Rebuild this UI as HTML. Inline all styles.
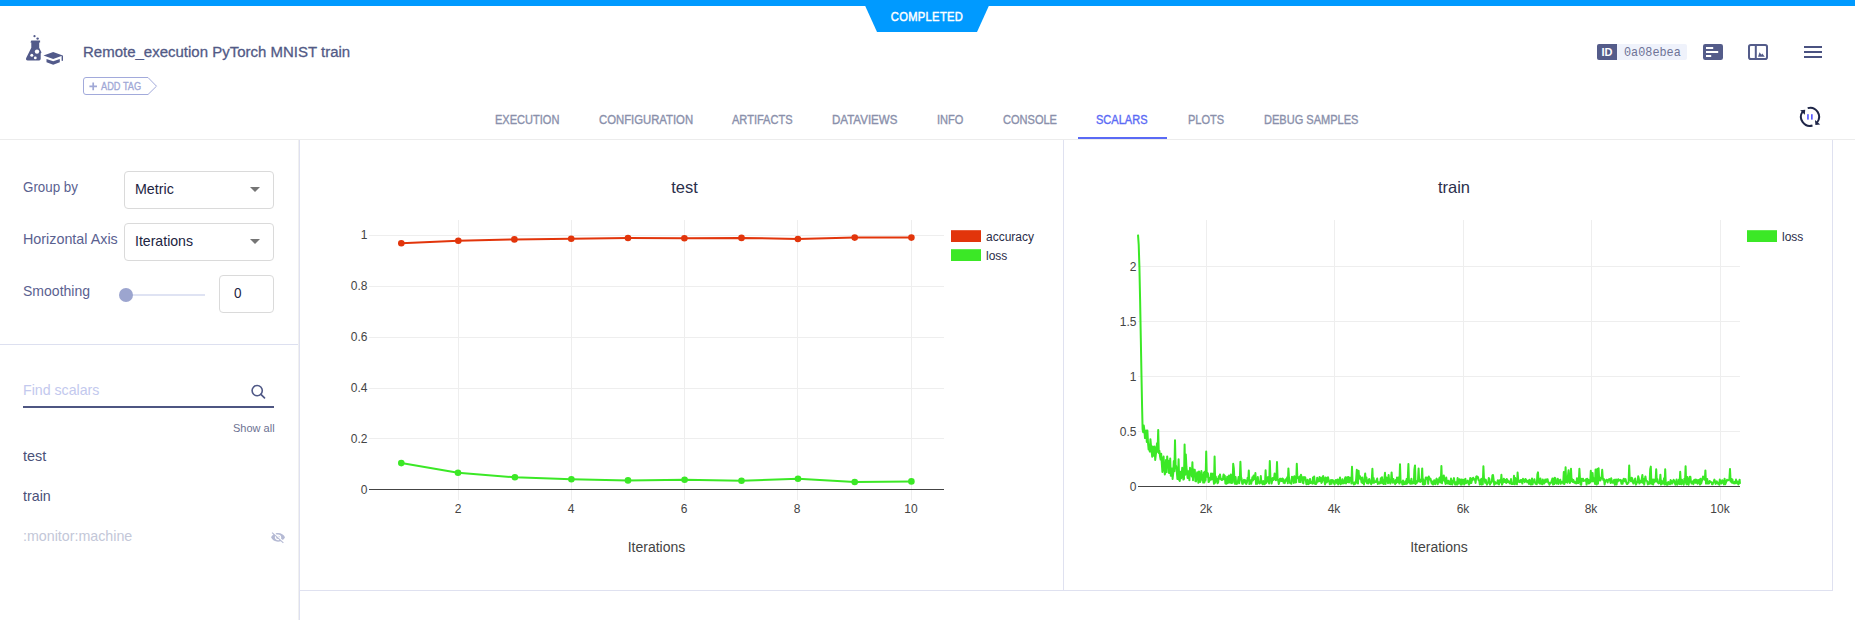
<!DOCTYPE html>
<html>
<head>
<meta charset="utf-8">
<title>Remote_execution PyTorch MNIST train</title>
<style>
html, body { margin: 0; padding: 0; }
body { width: 1855px; height: 620px; overflow: hidden; background: #ffffff; position: relative;
  font-family: "Liberation Sans", Arial, sans-serif; }
.abs { position: absolute; }
.topbar { left: 0; top: 0; width: 1855px; height: 6px; background: #009aff; }
.status { left: 862px; top: 0; }
.status-text { left: 864px; top: 10px; width: 126px; text-align: center; color: #fff; font-size: 12px; letter-spacing: 0.35px; line-height: 14px; transform: scaleX(0.93); transform-origin: 50% 0; -webkit-text-stroke: 0.45px #fff; }
.title { left: 83px; top: 43px; font-size: 15.5px; transform: scaleX(0.967); transform-origin: 0 0; color: #525a86; white-space: nowrap; line-height: 18px; -webkit-text-stroke: 0.3px #525a86; }
.tag { left: 83px; top: 77px; }
.tag-text { left: 101px; top: 80px; font-size: 11px; color: #a0a8d6; white-space: nowrap; line-height: 12px; transform: scaleX(0.84); transform-origin: 0 0; -webkit-text-stroke: 0.3px #a0a8d6; }
.tab { top: 113px; font-size: 12px; color: #8a90ab; white-space: nowrap; line-height: 14px; transform: scaleX(0.92); transform-origin: 0 0; -webkit-text-stroke: 0.35px #8a90ab; }
.tab.active { color: #5a6af5; -webkit-text-stroke: 0.35px #5a6af5; }
.underline { left: 1078px; top: 137px; width: 89px; height: 2px; background: #5a6af5; }
.hsep { left: 0; top: 139px; width: 1855px; height: 1px; background: #ececec; }
.idbox { left: 1597px; top: 44px; width: 20px; height: 16px; background: #545c8a; border-radius: 2px 0 0 2px; color: #fff; font-weight: bold; font-size: 11px; line-height: 16px; text-align: center; }
.idval { left: 1617px; top: 44px; width: 70px; height: 16px; background: #eff2fb; border-radius: 0 2px 2px 0; }
.idtext { left: 1624px; top: 45px; font-family: "Liberation Mono", monospace; font-size: 13px; color: #6e7296; line-height: 15px; transform: scaleX(0.91); transform-origin: 0 0; }
.lbl { left: 23px; font-size: 15px; color: #5a6190; white-space: nowrap; line-height: 17px; transform-origin: 0 0; }
.sel { left: 124px; width: 148px; height: 36px; border: 1px solid #dadada; border-radius: 4px; background: #fff; }
.seltext { left: 135px; font-size: 15px; color: #21243f; line-height: 17px; white-space: nowrap; transform-origin: 0 0; }
.caret { width: 0; height: 0; border-left: 5px solid transparent; border-right: 5px solid transparent; border-top: 5px solid #757575; }
.vsep { left: 299px; top: 140px; width: 1px; height: 480px; background: #dde0f0; }
.lsep { left: 0; top: 344px; width: 298px; height: 1px; background: #dde0f0; }
.chartbox { border: 1px solid #dfe1f0; border-top: none; background: #fff; }
.charts { position: absolute; left: 0; top: 0; pointer-events: none; }
.listitem { left: 23px; font-size: 15px; color: #4a5179; line-height: 17px; white-space: nowrap; transform-origin: 0 0; }
</style>
</head>
<body>
<div class="abs topbar"></div>
<svg class="abs status" width="130" height="33" viewBox="862 0 130 33"><polygon points="862.5,0 991.5,0 977,32 877,32" fill="#009aff"/></svg>
<div class="abs status-text">COMPLETED</div>

<!-- logo -->
<svg class="abs" style="left:24px;top:33px" width="42" height="34" viewBox="0 0 42 34">
  <g fill="#525a8a">
    <circle cx="10.5" cy="3.2" r="1.1"/>
    <circle cx="13.6" cy="5.6" r="1.2"/>
    <path d="M7.3,7.6 h8.8 v2 h-0.9 v5.2 l2.1,4.3 q0.5,1 -0.6,1.3 l0,5.6 q-0.2,1.4 -1.5,1.4 h-11.5 q-2.3,0 -1.5,-2.3 l5.1,-10.4 v-5.1 h-0.9 z"/>
    <path d="M19.5,22.6 l9.7,-3.6 l9.6,3.6 l-9.6,3.4 z"/>
    <rect x="37.6" y="22.6" width="1.4" height="5.2"/>
    <path d="M22.5,26 l6.7,2.3 l6.6,-2.3 v3.3 l-6.6,2.4 l-6.7,-2.4 z"/>
  </g>
  <g fill="#fff">
    <circle cx="13" cy="18.6" r="2.2"/>
    <circle cx="7.8" cy="22.2" r="1.5"/>
    <circle cx="11.3" cy="24.9" r="1.4"/>
  </g>
</svg>

<div class="abs title">Remote_execution PyTorch MNIST train</div>
<svg class="abs tag" width="76" height="19" viewBox="0 0 76 19"><path d="M3,0.5 H65 L73.5,9.2 L65,17.5 H3 Q0.5,17.5 0.5,15 V3 Q0.5,0.5 3,0.5 Z" fill="#fff" stroke="#a2aadb" stroke-width="1"/></svg>
<svg class="abs" style="left:89px;top:82px" width="9" height="9" viewBox="0 0 9 9"><path d="M4.2,0.5 V8.3 M0.4,4.4 H8" stroke="#a0a8d6" stroke-width="1.7"/></svg>
<div class="abs tag-text">ADD TAG</div>

<!-- right header icons -->
<div class="abs idbox">ID</div>
<div class="abs idval"></div>
<div class="abs idtext">0a08ebea</div>
<svg class="abs" style="left:1703px;top:44px" width="20" height="16" viewBox="0 0 20 16">
  <rect x="0" y="0" width="20" height="16" rx="2.2" fill="#545c8a"/>
  <rect x="3" y="3" width="7.2" height="2" fill="#fff"/>
  <rect x="3" y="7" width="12.2" height="2" fill="#fff"/>
  <rect x="3" y="11" width="5.2" height="2" fill="#fff"/>
</svg>
<svg class="abs" style="left:1748px;top:44px" width="20" height="16" viewBox="0 0 20 16">
  <rect x="1" y="1" width="18" height="14" rx="1.8" fill="none" stroke="#545c8a" stroke-width="2"/>
  <rect x="6.8" y="1" width="2" height="14" fill="#545c8a"/>
  <path d="M10,12.8 L11.6,8.3 L13.4,10.8 L14.3,9.6 L16.8,12.8 Z" fill="#545c8a"/>
</svg>
<svg class="abs" style="left:1803px;top:44px" width="20" height="16" viewBox="0 0 20 16">
  <rect x="1" y="2" width="18" height="2" fill="#4a5281"/>
  <rect x="1" y="7" width="18" height="2" fill="#4a5281"/>
  <rect x="1" y="12" width="18" height="2" fill="#4a5281"/>
</svg>

<!-- tabs -->
<div class="abs tab" style="left:495px">EXECUTION</div>
<div class="abs tab" style="left:599px;transform:scaleX(0.943)">CONFIGURATION</div>
<div class="abs tab" style="left:732px">ARTIFACTS</div>
<div class="abs tab" style="left:832px;transform:scaleX(0.962)">DATAVIEWS</div>
<div class="abs tab" style="left:937px">INFO</div>
<div class="abs tab" style="left:1003px">CONSOLE</div>
<div class="abs tab active" style="left:1096px">SCALARS</div>
<div class="abs tab" style="left:1188px">PLOTS</div>
<div class="abs tab" style="left:1264px">DEBUG SAMPLES</div>
<div class="abs hsep"></div>
<div class="abs underline"></div>

<!-- refresh/pause icon -->
<svg class="abs" style="left:1796px;top:103px" width="28" height="28" viewBox="1796 103 28 28">
  <g fill="none" stroke="#1f2648" stroke-width="2">
    <path d="M1807.67,108.1 A9,9 0 0 1 1817.0,122.5"/>
    <path d="M1812.5,125.45 A9,9 0 0 1 1802.5,111.8"/>
  </g>
  <path d="M1815.0,120.0 L1815.4,125.0 L1820.2,124.6 Z" fill="#1f2648"/>
  <path d="M1800.2,110.2 L1805.2,109.8 L1804.8,114.8 Z" fill="#1f2648"/>
  <rect x="1807.1" y="114.2" width="1.7" height="5.4" fill="#5a5cff"/>
  <rect x="1811.0" y="114.2" width="1.7" height="5.4" fill="#5a5cff"/>
</svg>

<!-- left panel -->
<div class="abs vsep"></div>
<div class="abs" style="left:298px;top:140px;width:1px;height:480px;background:#f0f0f0"></div>
<div class="abs lbl" style="top:178px;transform:scaleX(0.89)">Group by</div>
<div class="abs sel" style="top:171px"></div>
<div class="abs seltext" style="top:180px;transform:scaleX(0.95)">Metric</div>
<div class="abs caret" style="left:250px;top:187px"></div>
<div class="abs lbl" style="top:230px;transform:scaleX(0.955)">Horizontal Axis</div>
<div class="abs sel" style="top:223px"></div>
<div class="abs seltext" style="top:232px;transform:scaleX(0.94)">Iterations</div>
<div class="abs caret" style="left:250px;top:239px"></div>
<div class="abs lbl" style="top:282px;transform:scaleX(0.935)">Smoothing</div>
<div class="abs" style="left:126px;top:294px;width:79px;height:2px;background:#dfe3f3"></div>
<div class="abs" style="left:119px;top:288px;width:14px;height:14px;border-radius:50%;background:#9ca5cf"></div>
<div class="abs" style="left:219px;top:275px;width:53px;height:36px;border:1px solid #dadada;border-radius:4px"></div>
<div class="abs seltext" style="left:234px;top:284px;transform:scaleX(0.9)">0</div>
<div class="abs lsep"></div>

<div class="abs" style="left:23px;top:381px;font-size:15px;color:#c3c9ee;line-height:17px;white-space:nowrap;transform:scaleX(0.945);transform-origin:0 0">Find scalars</div>
<svg class="abs" style="left:249px;top:383px" width="18" height="18" viewBox="0 0 18 18">
  <circle cx="8.2" cy="7.6" r="5.1" fill="none" stroke="#4f5886" stroke-width="1.6"/>
  <path d="M11.9,11.4 L15.5,14.9" stroke="#4f5886" stroke-width="1.7" stroke-linecap="round"/>
</svg>
<div class="abs" style="left:23px;top:406px;width:251px;height:2px;background:#4e5682"></div>
<div class="abs" style="left:233px;top:422px;font-size:11px;color:#6d7292;line-height:12px;white-space:nowrap">Show all</div>
<div class="abs listitem" style="top:447px;transform:scaleX(0.96)">test</div>
<div class="abs listitem" style="top:487px;transform:scaleX(0.95)">train</div>
<div class="abs listitem" style="top:527px;color:#c3c7d8;transform:scaleX(0.95)">:monitor:machine</div>
<svg class="abs" style="left:268px;top:526px" width="20" height="20" viewBox="268 526 20 20">
  <path transform="translate(270.4,530.4) scale(0.636,0.58)" fill="#b5bad4" d="M12 7c2.76 0 5 2.24 5 5 0 .65-.13 1.26-.36 1.83l2.92 2.92c1.51-1.260 2.7-2.89 3.43-4.75-1.73-4.39-6-7.5-11-7.5-1.4 0-2.74.25-3.980.7l2.16 2.16C10.74 7.13 11.350 7 12 7zM2 4.27l2.28 2.28.46.46C3.08 8.3 1.78 10.02 1 12c1.73 4.39 6 7.5 11 7.5 1.55 0 3.03-.3 4.38-.84l.42.42L19.73 22 21 20.73 3.27 3 2 4.27zM7.53 9.8l1.55 1.55c-.05.21-.08.43-.08.65 0 1.66 1.34 3 3 3 .22 0 .44-.03.65-.08l1.55 1.55c-.67.33-1.41.53-2.2.53-2.76 0-5-2.24-5-5 0-.79.2-1.530.53-2.2zm4.31-.78l3.15 3.15.02-.16c0-1.66-1.34-3-3-3l-.17.01z"/>
</svg>

<!-- chart boxes -->
<div class="abs chartbox" style="left:299px;top:140px;width:763px;height:450px"></div>
<div class="abs chartbox" style="left:1064px;top:140px;width:768px;height:450px;border-left:none"></div>

<svg class="charts" width="1855" height="620" viewBox="0 0 1855 620">
<g shape-rendering="crispEdges">
<line x1="369" x2="944" y1="235.5" y2="235.5" stroke="#eeeeee" stroke-width="1"/>
<line x1="369" x2="944" y1="286.5" y2="286.5" stroke="#eeeeee" stroke-width="1"/>
<line x1="369" x2="944" y1="337.5" y2="337.5" stroke="#eeeeee" stroke-width="1"/>
<line x1="369" x2="944" y1="388.5" y2="388.5" stroke="#eeeeee" stroke-width="1"/>
<line x1="369" x2="944" y1="438.5" y2="438.5" stroke="#eeeeee" stroke-width="1"/>
<line x1="458.5" x2="458.5" y1="220" y2="500" stroke="#eeeeee" stroke-width="1"/>
<line x1="571.5" x2="571.5" y1="220" y2="500" stroke="#eeeeee" stroke-width="1"/>
<line x1="684.5" x2="684.5" y1="220" y2="500" stroke="#eeeeee" stroke-width="1"/>
<line x1="797.5" x2="797.5" y1="220" y2="500" stroke="#eeeeee" stroke-width="1"/>
<line x1="911.5" x2="911.5" y1="220" y2="500" stroke="#eeeeee" stroke-width="1"/>
<line x1="369" x2="944" y1="489.5" y2="489.5" stroke="#444" stroke-width="1"/>
<line x1="1138" x2="1740" y1="266.5" y2="266.5" stroke="#eeeeee" stroke-width="1"/>
<line x1="1138" x2="1740" y1="321.5" y2="321.5" stroke="#eeeeee" stroke-width="1"/>
<line x1="1138" x2="1740" y1="376.5" y2="376.5" stroke="#eeeeee" stroke-width="1"/>
<line x1="1138" x2="1740" y1="431.5" y2="431.5" stroke="#eeeeee" stroke-width="1"/>
<line x1="1206.5" x2="1206.5" y1="220" y2="500" stroke="#eeeeee" stroke-width="1"/>
<line x1="1334.5" x2="1334.5" y1="220" y2="500" stroke="#eeeeee" stroke-width="1"/>
<line x1="1463.5" x2="1463.5" y1="220" y2="500" stroke="#eeeeee" stroke-width="1"/>
<line x1="1591.5" x2="1591.5" y1="220" y2="500" stroke="#eeeeee" stroke-width="1"/>
<line x1="1720.5" x2="1720.5" y1="220" y2="500" stroke="#eeeeee" stroke-width="1"/>
<line x1="1138" x2="1740" y1="486.5" y2="486.5" stroke="#444" stroke-width="1"/>
</g>
<g font-family="Liberation Sans, Arial, sans-serif" font-size="12" fill="#444">
<text x="367.5" y="239.35" text-anchor="end">1</text>
<text x="367.5" y="290.20" text-anchor="end">0.8</text>
<text x="367.5" y="341.05" text-anchor="end">0.6</text>
<text x="367.5" y="391.90" text-anchor="end">0.4</text>
<text x="367.5" y="442.75" text-anchor="end">0.2</text>
<text x="367.5" y="493.60" text-anchor="end">0</text>
<text x="458.0" y="513.2" text-anchor="middle">2</text>
<text x="571.0" y="513.2" text-anchor="middle">4</text>
<text x="684.0" y="513.2" text-anchor="middle">6</text>
<text x="797.0" y="513.2" text-anchor="middle">8</text>
<text x="911.0" y="513.2" text-anchor="middle">10</text>
<text x="1136.5" y="270.8" text-anchor="end">2</text>
<text x="1136.5" y="325.8" text-anchor="end">1.5</text>
<text x="1136.5" y="380.8" text-anchor="end">1</text>
<text x="1136.5" y="435.8" text-anchor="end">0.5</text>
<text x="1136.5" y="490.8" text-anchor="end">0</text>
<text x="1206.0" y="513.2" text-anchor="middle">2k</text>
<text x="1334.0" y="513.2" text-anchor="middle">4k</text>
<text x="1463.0" y="513.2" text-anchor="middle">6k</text>
<text x="1591.0" y="513.2" text-anchor="middle">8k</text>
<text x="1720.0" y="513.2" text-anchor="middle">10k</text>
</g>
<g font-family="Liberation Sans, Arial, sans-serif" font-size="14" fill="#444">
<text x="656.5" y="551.5" text-anchor="middle">Iterations</text>
<text x="1439" y="551.5" text-anchor="middle">Iterations</text>
</g>
<g font-family="Liberation Sans, Arial, sans-serif" font-size="16.5" fill="#2b2f4c">
<text x="684.5" y="193" text-anchor="middle">test</text>
<text x="1454" y="193" text-anchor="middle">train</text>
</g>
<rect x="951" y="230.2" width="30" height="11.8" fill="#e2350b"/>
<rect x="951" y="249.2" width="30" height="11.8" fill="#3be826"/>
<rect x="1747" y="230.2" width="30" height="11.8" fill="#3be826"/>
<g font-family="Liberation Sans, Arial, sans-serif" font-size="12" fill="#2a2d48">
<text x="986" y="240.5">accuracy</text>
<text x="986" y="259.5">loss</text>
<text x="1782" y="240.8">loss</text>
</g>
<path d="M401.3,243.3 L458.3,240.8 L514.4,239.4 L571.2,238.7 L628.0,238.0 L684.4,238.3 L741.5,237.9 L797.9,239.0 L854.7,237.6 L911.4,237.6" fill="none" stroke="#e2350b" stroke-width="2" stroke-linejoin="round"/>
<circle cx="401.3" cy="243.3" r="3.3" fill="#e2350b"/><circle cx="458.3" cy="240.8" r="3.3" fill="#e2350b"/><circle cx="514.4" cy="239.4" r="3.3" fill="#e2350b"/><circle cx="571.2" cy="238.7" r="3.3" fill="#e2350b"/><circle cx="628.0" cy="238.0" r="3.3" fill="#e2350b"/><circle cx="684.4" cy="238.3" r="3.3" fill="#e2350b"/><circle cx="741.5" cy="237.9" r="3.3" fill="#e2350b"/><circle cx="797.9" cy="239.0" r="3.3" fill="#e2350b"/><circle cx="854.7" cy="237.6" r="3.3" fill="#e2350b"/><circle cx="911.4" cy="237.6" r="3.3" fill="#e2350b"/>
<path d="M401.3,463.1 L458.0,472.7 L514.9,477.3 L571.4,479.3 L628.0,480.4 L684.6,479.7 L741.5,480.8 L798.0,478.7 L854.7,482.0 L911.4,481.4" fill="none" stroke="#3be826" stroke-width="2" stroke-linejoin="round"/>
<circle cx="401.3" cy="463.1" r="3.3" fill="#3be826"/><circle cx="458.0" cy="472.7" r="3.3" fill="#3be826"/><circle cx="514.9" cy="477.3" r="3.3" fill="#3be826"/><circle cx="571.4" cy="479.3" r="3.3" fill="#3be826"/><circle cx="628.0" cy="480.4" r="3.3" fill="#3be826"/><circle cx="684.6" cy="479.7" r="3.3" fill="#3be826"/><circle cx="741.5" cy="480.8" r="3.3" fill="#3be826"/><circle cx="798.0" cy="478.7" r="3.3" fill="#3be826"/><circle cx="854.7" cy="482.0" r="3.3" fill="#3be826"/><circle cx="911.4" cy="481.4" r="3.3" fill="#3be826"/>
<path d="M1138.0,234.6 L1138.7,244.5 L1139.4,266.5 L1140.1,299.5 L1140.8,338.0 L1141.5,376.5 L1142.1,407.3 L1142.6,429.3 L1143.2,432.2 L1143.8,425.5 L1144.4,430.3 L1145.0,438.1 L1145.6,438.1 L1146.2,430.4 L1146.8,442.0 L1147.4,430.5 L1148.0,442.6 L1148.6,449.4 L1149.2,447.4 L1149.8,451.6 L1150.4,439.2 L1151.0,445.6 L1151.6,451.1 L1152.2,456.7 L1152.8,446.6 L1153.4,455.7 L1154.0,453.8 L1154.6,446.6 L1155.2,460.0 L1155.8,454.9 L1156.4,450.8 L1157.0,443.2 L1157.6,451.7 L1158.2,429.9 L1158.8,453.0 L1159.4,450.8 L1160.0,456.1 L1160.6,459.6 L1161.2,453.7 L1161.8,463.4 L1162.4,471.9 L1163.0,460.4 L1163.6,456.6 L1164.2,467.5 L1164.8,474.4 L1165.4,472.4 L1166.0,460.0 L1166.6,472.1 L1167.2,456.4 L1167.8,466.6 L1168.4,460.7 L1169.0,473.0 L1169.6,471.8 L1170.2,458.5 L1170.8,475.8 L1171.4,475.1 L1172.0,468.4 L1172.6,478.9 L1173.2,473.5 L1173.8,461.1 L1174.4,471.2 L1175.0,440.2 L1175.6,466.1 L1176.2,466.0 L1176.8,471.7 L1177.4,479.0 L1178.0,478.8 L1178.6,459.3 L1179.2,480.0 L1179.8,481.0 L1180.4,471.7 L1181.0,478.3 L1181.6,476.6 L1182.2,467.7 L1182.8,475.2 L1183.4,479.6 L1184.0,478.8 L1184.6,444.5 L1185.2,474.8 L1185.8,454.4 L1186.4,466.7 L1187.0,472.3 L1187.6,478.0 L1188.2,471.2 L1188.8,471.3 L1189.4,480.3 L1190.0,467.8 L1190.6,471.3 L1191.2,472.6 L1191.8,476.4 L1192.4,462.3 L1193.0,480.3 L1193.6,469.4 L1194.2,469.9 L1194.8,469.8 L1195.4,481.1 L1196.0,481.4 L1196.6,475.6 L1197.2,472.3 L1197.8,475.4 L1198.4,482.8 L1199.0,471.5 L1199.6,474.2 L1200.2,481.9 L1200.8,480.2 L1201.4,471.0 L1202.0,479.5 L1202.6,475.1 L1203.2,482.6 L1203.8,472.5 L1204.4,482.5 L1205.0,471.6 L1205.6,480.4 L1206.2,451.4 L1206.8,476.7 L1207.4,472.7 L1208.0,473.7 L1208.6,482.1 L1209.2,481.3 L1209.8,477.8 L1210.4,479.9 L1211.0,473.6 L1211.6,479.5 L1212.2,473.8 L1212.8,473.7 L1213.4,478.8 L1214.0,483.8 L1214.6,456.6 L1215.2,482.7 L1215.8,476.6 L1216.4,481.2 L1217.0,478.7 L1217.6,483.3 L1218.2,482.1 L1218.8,476.2 L1219.4,478.8 L1220.0,474.5 L1220.6,478.3 L1221.2,479.5 L1221.8,480.1 L1222.4,479.9 L1223.0,477.4 L1223.6,474.5 L1224.2,479.1 L1224.8,475.8 L1225.4,483.3 L1226.0,483.7 L1226.6,483.7 L1227.2,476.7 L1227.8,483.1 L1228.4,478.2 L1229.0,475.6 L1229.6,482.6 L1230.2,481.0 L1230.8,474.4 L1231.4,483.1 L1232.0,479.9 L1232.6,482.8 L1233.2,463.8 L1233.8,468.1 L1234.4,478.8 L1235.0,483.8 L1235.6,477.1 L1236.2,483.6 L1236.8,484.0 L1237.4,482.3 L1238.0,480.9 L1238.6,476.9 L1239.2,483.3 L1239.8,479.5 L1240.4,461.8 L1241.0,476.9 L1241.6,478.9 L1242.2,483.7 L1242.8,483.9 L1243.4,480.8 L1244.0,479.8 L1244.6,482.4 L1245.2,480.1 L1245.8,483.6 L1246.4,484.0 L1247.0,482.1 L1247.6,477.8 L1248.2,480.4 L1248.8,470.6 L1249.4,484.1 L1250.0,480.0 L1250.6,480.7 L1251.2,483.7 L1251.8,481.1 L1252.4,477.2 L1253.0,480.5 L1253.6,475.6 L1254.2,477.3 L1254.8,479.3 L1255.4,473.1 L1256.0,483.9 L1256.6,482.6 L1257.2,483.8 L1257.8,476.9 L1258.4,482.5 L1259.0,482.4 L1259.6,483.4 L1260.2,482.6 L1260.8,476.0 L1261.4,482.8 L1262.0,482.3 L1262.6,484.2 L1263.2,480.9 L1263.8,483.1 L1264.4,484.2 L1265.0,483.8 L1265.6,470.3 L1266.2,482.9 L1266.8,480.4 L1267.4,479.3 L1268.0,477.1 L1268.6,482.2 L1269.2,483.5 L1269.8,461.1 L1270.4,477.0 L1271.0,478.6 L1271.6,483.6 L1272.2,480.7 L1272.8,477.9 L1273.4,480.0 L1274.0,479.1 L1274.6,473.6 L1275.2,478.3 L1275.8,480.3 L1276.4,479.7 L1277.0,462.1 L1277.6,478.5 L1278.2,480.5 L1278.8,484.0 L1279.4,481.7 L1280.0,478.8 L1280.6,478.7 L1281.2,480.9 L1281.8,481.0 L1282.4,478.4 L1283.0,479.0 L1283.6,482.8 L1284.2,482.5 L1284.8,483.1 L1285.4,479.4 L1286.0,479.3 L1286.6,480.8 L1287.2,477.3 L1287.8,483.2 L1288.4,468.4 L1289.0,478.0 L1289.6,481.3 L1290.2,483.2 L1290.8,483.2 L1291.4,483.6 L1292.0,476.7 L1292.6,478.0 L1293.2,477.4 L1293.8,483.0 L1294.4,476.2 L1295.0,481.0 L1295.6,482.5 L1296.2,482.2 L1296.8,463.7 L1297.4,477.9 L1298.0,477.1 L1298.6,477.3 L1299.2,482.0 L1299.8,476.4 L1300.4,482.1 L1301.0,474.7 L1301.6,478.0 L1302.2,477.0 L1302.8,482.8 L1303.4,483.4 L1304.0,476.9 L1304.6,478.3 L1305.2,477.3 L1305.8,480.6 L1306.4,484.2 L1307.0,481.4 L1307.6,479.8 L1308.2,484.2 L1308.8,483.8 L1309.4,482.3 L1310.0,479.0 L1310.6,482.9 L1311.2,482.6 L1311.8,481.9 L1312.4,483.6 L1313.0,477.4 L1313.6,483.2 L1314.2,476.6 L1314.8,483.7 L1315.4,484.0 L1316.0,484.0 L1316.6,482.9 L1317.2,477.7 L1317.8,481.8 L1318.4,480.9 L1319.0,481.2 L1319.6,476.9 L1320.2,481.1 L1320.8,477.9 L1321.4,482.9 L1322.0,481.9 L1322.6,477.1 L1323.2,476.1 L1323.8,479.3 L1324.4,481.4 L1325.0,484.4 L1325.6,477.4 L1326.2,478.0 L1326.8,482.4 L1327.4,481.0 L1328.0,477.2 L1328.6,479.9 L1329.2,481.5 L1329.8,484.3 L1330.4,483.2 L1331.0,480.0 L1331.6,483.8 L1332.2,480.0 L1332.8,481.6 L1333.4,480.5 L1334.0,483.2 L1334.6,484.4 L1335.2,481.5 L1335.8,480.0 L1336.4,481.4 L1337.0,483.1 L1337.6,479.5 L1338.2,484.4 L1338.8,479.8 L1339.4,483.0 L1340.0,477.5 L1340.6,484.3 L1341.2,481.9 L1341.8,483.4 L1342.4,479.2 L1343.0,483.4 L1343.6,482.7 L1344.2,483.2 L1344.8,479.0 L1345.4,477.3 L1346.0,483.5 L1346.6,481.9 L1347.2,477.3 L1347.8,482.1 L1348.4,477.1 L1349.0,482.5 L1349.6,477.8 L1350.2,479.3 L1350.8,477.5 L1351.4,483.5 L1352.0,466.7 L1352.6,482.2 L1353.2,482.6 L1353.8,484.5 L1354.4,482.4 L1355.0,483.9 L1355.6,483.4 L1356.2,478.6 L1356.8,469.7 L1357.4,482.3 L1358.0,483.5 L1358.6,470.7 L1359.2,478.7 L1359.8,476.0 L1360.4,477.7 L1361.0,479.3 L1361.6,482.5 L1362.2,477.4 L1362.8,483.1 L1363.4,482.7 L1364.0,484.5 L1364.6,477.8 L1365.2,473.5 L1365.8,481.5 L1366.4,477.4 L1367.0,483.2 L1367.6,481.4 L1368.2,483.6 L1368.8,479.4 L1369.4,479.1 L1370.0,482.6 L1370.6,482.4 L1371.2,484.2 L1371.8,479.3 L1372.4,468.8 L1373.0,482.7 L1373.6,478.1 L1374.2,482.7 L1374.8,481.4 L1375.4,481.8 L1376.0,482.0 L1376.6,480.0 L1377.2,478.5 L1377.8,484.0 L1378.4,482.9 L1379.0,482.3 L1379.6,483.5 L1380.2,483.2 L1380.8,478.2 L1381.4,482.7 L1382.0,477.2 L1382.6,483.3 L1383.2,480.2 L1383.8,484.1 L1384.4,478.8 L1385.0,472.8 L1385.6,484.0 L1386.2,477.4 L1386.8,477.8 L1387.4,478.4 L1388.0,483.2 L1388.6,475.0 L1389.2,480.5 L1389.8,482.4 L1390.4,483.5 L1391.0,480.6 L1391.6,472.4 L1392.2,480.0 L1392.8,482.8 L1393.4,479.0 L1394.0,482.6 L1394.6,481.1 L1395.2,484.2 L1395.8,479.9 L1396.4,483.0 L1397.0,477.6 L1397.6,480.9 L1398.2,482.1 L1398.8,477.3 L1399.4,483.6 L1400.0,464.2 L1400.6,482.0 L1401.2,482.2 L1401.8,481.8 L1402.4,484.5 L1403.0,480.4 L1403.6,484.2 L1404.2,482.4 L1404.8,483.9 L1405.4,481.3 L1406.0,484.1 L1406.6,479.0 L1407.2,483.6 L1407.8,477.8 L1408.4,464.0 L1409.0,482.3 L1409.6,480.6 L1410.2,483.8 L1410.8,483.5 L1411.4,478.7 L1412.0,483.7 L1412.6,482.3 L1413.2,482.4 L1413.8,483.3 L1414.4,469.3 L1415.0,465.4 L1415.6,484.1 L1416.2,481.1 L1416.8,482.9 L1417.4,480.9 L1418.0,480.3 L1418.6,468.6 L1419.2,481.6 L1419.8,479.4 L1420.4,481.9 L1421.0,481.2 L1421.6,480.1 L1422.2,468.4 L1422.8,484.3 L1423.4,479.3 L1424.0,484.4 L1424.6,482.4 L1425.2,484.0 L1425.8,477.4 L1426.4,479.0 L1427.0,477.6 L1427.6,477.8 L1428.2,483.8 L1428.8,476.5 L1429.4,479.5 L1430.0,478.3 L1430.6,479.0 L1431.2,481.6 L1431.8,483.6 L1432.4,481.5 L1433.0,484.5 L1433.6,483.9 L1434.2,480.2 L1434.8,483.8 L1435.4,484.1 L1436.0,480.5 L1436.6,478.6 L1437.2,481.0 L1437.8,484.2 L1438.4,480.6 L1439.0,479.2 L1439.6,477.5 L1440.2,482.6 L1440.8,482.0 L1441.4,466.1 L1442.0,483.3 L1442.6,477.6 L1443.2,480.3 L1443.8,475.4 L1444.4,480.7 L1445.0,481.5 L1445.6,484.0 L1446.2,477.5 L1446.8,481.1 L1447.4,483.5 L1448.0,480.9 L1448.6,480.7 L1449.2,484.0 L1449.8,483.4 L1450.4,484.2 L1451.0,478.6 L1451.6,482.3 L1452.2,484.6 L1452.8,481.2 L1453.4,480.5 L1454.0,478.1 L1454.6,483.4 L1455.2,484.5 L1455.8,482.3 L1456.4,484.4 L1457.0,484.6 L1457.6,478.1 L1458.2,483.7 L1458.8,481.6 L1459.4,479.2 L1460.0,483.0 L1460.6,484.5 L1461.2,479.4 L1461.8,484.6 L1462.4,479.7 L1463.0,479.8 L1463.6,482.5 L1464.2,484.5 L1464.8,479.7 L1465.4,478.9 L1466.0,483.3 L1466.6,482.1 L1467.2,481.5 L1467.8,480.6 L1468.4,483.6 L1469.0,484.6 L1469.6,483.5 L1470.2,478.1 L1470.8,482.9 L1471.4,482.9 L1472.0,478.4 L1472.6,480.2 L1473.2,477.8 L1473.8,479.0 L1474.4,478.9 L1475.0,480.0 L1475.6,483.0 L1476.2,476.8 L1476.8,476.2 L1477.4,478.3 L1478.0,477.1 L1478.6,480.2 L1479.2,480.2 L1479.8,484.4 L1480.4,482.7 L1481.0,479.2 L1481.6,484.4 L1482.2,478.4 L1482.8,484.2 L1483.4,466.3 L1484.0,479.3 L1484.6,479.2 L1485.2,482.8 L1485.8,479.7 L1486.4,483.0 L1487.0,484.6 L1487.6,483.2 L1488.2,482.7 L1488.8,478.0 L1489.4,479.0 L1490.0,484.6 L1490.6,482.2 L1491.2,482.8 L1491.8,481.5 L1492.4,475.3 L1493.0,475.0 L1493.6,479.7 L1494.2,484.7 L1494.8,481.8 L1495.4,483.8 L1496.0,482.8 L1496.6,483.4 L1497.2,483.2 L1497.8,480.2 L1498.4,484.2 L1499.0,484.4 L1499.6,480.3 L1500.2,480.8 L1500.8,482.5 L1501.4,474.8 L1502.0,484.6 L1502.6,483.4 L1503.2,481.8 L1503.8,478.7 L1504.4,482.0 L1505.0,479.8 L1505.6,480.7 L1506.2,483.0 L1506.8,479.1 L1507.4,479.9 L1508.0,482.2 L1508.6,481.2 L1509.2,482.0 L1509.8,483.5 L1510.4,483.1 L1511.0,479.1 L1511.6,484.0 L1512.2,483.0 L1512.8,484.0 L1513.4,483.8 L1514.0,475.8 L1514.6,484.3 L1515.2,477.9 L1515.8,480.0 L1516.4,483.8 L1517.0,484.3 L1517.6,472.6 L1518.2,479.6 L1518.8,481.8 L1519.4,482.1 L1520.0,481.0 L1520.6,480.0 L1521.2,482.3 L1521.8,479.9 L1522.4,483.6 L1523.0,478.8 L1523.6,480.3 L1524.2,480.5 L1524.8,482.1 L1525.4,479.0 L1526.0,479.7 L1526.6,480.9 L1527.2,482.4 L1527.8,480.9 L1528.4,480.5 L1529.0,483.9 L1529.6,479.7 L1530.2,481.9 L1530.8,484.6 L1531.4,484.0 L1532.0,478.4 L1532.6,484.3 L1533.2,481.5 L1533.8,481.7 L1534.4,479.3 L1535.0,482.5 L1535.6,483.7 L1536.2,482.6 L1536.8,484.2 L1537.4,474.3 L1538.0,472.4 L1538.6,482.4 L1539.2,482.9 L1539.8,483.6 L1540.4,478.4 L1541.0,483.7 L1541.6,482.6 L1542.2,484.2 L1542.8,479.5 L1543.4,482.1 L1544.0,483.6 L1544.6,482.9 L1545.2,479.4 L1545.8,482.1 L1546.4,481.5 L1547.0,479.3 L1547.6,479.2 L1548.2,482.7 L1548.8,482.4 L1549.4,484.7 L1550.0,483.3 L1550.6,483.2 L1551.2,482.4 L1551.8,480.7 L1552.4,478.5 L1553.0,484.5 L1553.6,478.7 L1554.2,484.1 L1554.8,477.8 L1555.4,478.4 L1556.0,482.9 L1556.6,483.6 L1557.2,482.9 L1557.8,478.8 L1558.4,484.0 L1559.0,481.1 L1559.6,480.6 L1560.2,479.7 L1560.8,483.8 L1561.4,481.7 L1562.0,482.3 L1562.6,481.5 L1563.2,483.6 L1563.8,472.0 L1564.4,484.1 L1565.0,481.9 L1565.6,467.2 L1566.2,482.1 L1566.8,480.7 L1567.4,482.7 L1568.0,475.5 L1568.6,470.2 L1569.2,480.6 L1569.8,483.0 L1570.4,481.8 L1571.0,468.8 L1571.6,481.0 L1572.2,479.2 L1572.8,482.1 L1573.4,479.9 L1574.0,482.4 L1574.6,481.5 L1575.2,483.3 L1575.8,482.6 L1576.4,483.4 L1577.0,478.2 L1577.6,479.7 L1578.2,483.1 L1578.8,481.3 L1579.4,468.8 L1580.0,479.0 L1580.6,484.6 L1581.2,484.7 L1581.8,478.7 L1582.4,480.8 L1583.0,478.8 L1583.6,481.1 L1584.2,480.5 L1584.8,480.6 L1585.4,480.7 L1586.0,479.2 L1586.6,484.6 L1587.2,478.8 L1587.8,482.8 L1588.4,479.8 L1589.0,483.5 L1589.6,482.5 L1590.2,482.4 L1590.8,470.8 L1591.4,481.1 L1592.0,481.4 L1592.6,473.1 L1593.2,481.3 L1593.8,478.2 L1594.4,479.7 L1595.0,483.8 L1595.6,469.4 L1596.2,484.3 L1596.8,484.4 L1597.4,468.9 L1598.0,483.6 L1598.6,468.2 L1599.2,480.4 L1599.8,477.5 L1600.4,480.4 L1601.0,478.7 L1601.6,478.4 L1602.2,469.8 L1602.8,478.2 L1603.4,480.3 L1604.0,479.2 L1604.6,484.5 L1605.2,481.4 L1605.8,480.7 L1606.4,479.7 L1607.0,480.9 L1607.6,482.5 L1608.2,479.8 L1608.8,479.9 L1609.4,479.0 L1610.0,480.5 L1610.6,483.1 L1611.2,478.3 L1611.8,481.2 L1612.4,482.5 L1613.0,482.8 L1613.6,481.2 L1614.2,479.7 L1614.8,484.7 L1615.4,482.5 L1616.0,479.6 L1616.6,484.6 L1617.2,479.7 L1617.8,481.5 L1618.4,479.3 L1619.0,480.6 L1619.6,480.6 L1620.2,479.8 L1620.8,480.1 L1621.4,483.7 L1622.0,480.7 L1622.6,483.8 L1623.2,480.1 L1623.8,478.7 L1624.4,480.0 L1625.0,481.4 L1625.6,479.1 L1626.2,482.1 L1626.8,483.9 L1627.4,484.0 L1628.0,482.9 L1628.6,482.6 L1629.2,465.6 L1629.8,480.0 L1630.4,479.9 L1631.0,481.3 L1631.6,477.8 L1632.2,478.3 L1632.8,482.1 L1633.4,483.5 L1634.0,482.5 L1634.6,480.0 L1635.2,478.5 L1635.8,484.6 L1636.4,483.8 L1637.0,481.6 L1637.6,482.3 L1638.2,476.3 L1638.8,478.5 L1639.4,483.6 L1640.0,481.0 L1640.6,480.8 L1641.2,482.4 L1641.8,478.5 L1642.4,475.0 L1643.0,483.0 L1643.6,479.0 L1644.2,484.6 L1644.8,480.5 L1645.4,476.4 L1646.0,480.2 L1646.6,480.7 L1647.2,481.4 L1647.8,484.4 L1648.4,483.6 L1649.0,482.1 L1649.6,483.7 L1650.2,469.2 L1650.8,466.6 L1651.4,483.8 L1652.0,479.3 L1652.6,484.2 L1653.2,484.4 L1653.8,479.5 L1654.4,482.3 L1655.0,479.6 L1655.6,481.1 L1656.2,469.3 L1656.8,481.6 L1657.4,479.3 L1658.0,482.6 L1658.6,483.5 L1659.2,483.1 L1659.8,482.1 L1660.4,474.7 L1661.0,484.6 L1661.6,480.8 L1662.2,482.2 L1662.8,483.6 L1663.4,482.9 L1664.0,478.3 L1664.6,484.4 L1665.2,469.2 L1665.8,483.4 L1666.4,484.7 L1667.0,483.1 L1667.6,484.8 L1668.2,481.9 L1668.8,482.5 L1669.4,483.8 L1670.0,484.2 L1670.6,480.1 L1671.2,483.5 L1671.8,481.3 L1672.4,483.5 L1673.0,481.3 L1673.6,479.8 L1674.2,480.7 L1674.8,482.7 L1675.4,484.6 L1676.0,483.1 L1676.6,479.4 L1677.2,484.7 L1677.8,482.2 L1678.4,483.5 L1679.0,479.6 L1679.6,484.1 L1680.2,471.8 L1680.8,482.4 L1681.4,484.3 L1682.0,479.7 L1682.6,483.2 L1683.2,482.8 L1683.8,484.6 L1684.4,478.7 L1685.0,482.0 L1685.6,466.3 L1686.2,483.8 L1686.8,484.4 L1687.4,477.1 L1688.0,480.6 L1688.6,484.7 L1689.2,481.5 L1689.8,476.8 L1690.4,476.8 L1691.0,482.1 L1691.6,483.5 L1692.2,482.7 L1692.8,481.4 L1693.4,484.2 L1694.0,480.3 L1694.6,479.7 L1695.2,482.8 L1695.8,479.6 L1696.4,482.8 L1697.0,480.1 L1697.6,483.7 L1698.2,482.5 L1698.8,479.9 L1699.4,479.8 L1700.0,484.6 L1700.6,478.7 L1701.2,483.6 L1701.8,481.1 L1702.4,480.0 L1703.0,476.6 L1703.6,478.6 L1704.2,478.8 L1704.8,479.8 L1705.4,470.4 L1706.0,483.6 L1706.6,483.5 L1707.2,478.9 L1707.8,483.6 L1708.4,482.5 L1709.0,483.4 L1709.6,481.0 L1710.2,481.4 L1710.8,482.0 L1711.4,482.3 L1712.0,484.2 L1712.6,484.3 L1713.2,482.7 L1713.8,481.3 L1714.4,479.6 L1715.0,481.6 L1715.6,483.9 L1716.2,482.3 L1716.8,481.3 L1717.4,483.3 L1718.0,483.8 L1718.6,482.9 L1719.2,484.8 L1719.8,479.5 L1720.4,481.7 L1721.0,483.5 L1721.6,483.4 L1722.2,480.3 L1722.8,480.8 L1723.4,482.5 L1724.0,484.4 L1724.6,478.7 L1725.2,484.2 L1725.8,483.0 L1726.4,481.3 L1727.0,479.8 L1727.6,480.4 L1728.2,480.2 L1728.8,480.1 L1729.4,479.1 L1730.0,468.9 L1730.6,481.5 L1731.2,478.7 L1731.8,482.6 L1732.4,479.4 L1733.0,482.9 L1733.6,482.4 L1734.2,483.4 L1734.8,481.7 L1735.4,483.2 L1736.0,479.6 L1736.6,482.5 L1737.2,483.3 L1737.8,481.6 L1738.4,484.5 L1739.0,483.2 L1739.6,479.7 L1740.0,483.9" fill="none" stroke="#3be826" stroke-width="2" stroke-linejoin="round"/>
</svg>
</body>
</html>
